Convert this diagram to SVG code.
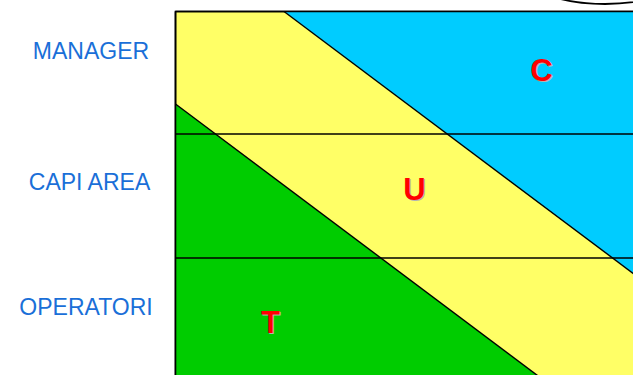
<svg xmlns="http://www.w3.org/2000/svg" width="633" height="375" viewBox="0 0 633 375">
<style>
.lbl{font-family:"Liberation Sans",Arial,sans-serif;font-size:23px;fill:#1a6fd8;text-anchor:middle}
.big{font-family:"Liberation Sans",Arial,sans-serif;font-size:31px;font-weight:bold;text-anchor:middle}
.sh{fill:#b4b4b4}
.rd{fill:#ff0000}
.ln{stroke:#000;stroke-width:1.4;fill:none}
</style>
<rect width="633" height="375" fill="#fff"/>
<ellipse cx="605" cy="-26" rx="80" ry="30" fill="#fff" stroke="#000" stroke-width="1.8"/>
<g id="chart">
<rect x="175.5" y="11.5" width="470" height="375" fill="#ffff66" stroke="#000" stroke-width="1.6"/>
<polygon points="284,11.5 645,11.5 645,282.3" fill="#00ccff"/>
<polygon points="175.5,104 175.5,386 551.5,386" fill="#00cc00"/>
<line class="ln" x1="284" y1="11.5" x2="645" y2="282.3"/>
<line class="ln" x1="175.5" y1="104" x2="551.5" y2="386"/>
<line class="ln" x1="175.5" y1="134" x2="645" y2="134"/>
<line class="ln" x1="175.5" y1="258" x2="645" y2="258"/>
<line x1="175.5" y1="11.5" x2="645" y2="11.5" stroke="#000" stroke-width="1.6"/>
<line x1="175.5" y1="11.5" x2="175.5" y2="386" stroke="#000" stroke-width="1.6"/>
</g>
<g id="labels">
<text class="lbl" x="91" y="59.3">MANAGER</text>
<text class="lbl" x="89.5" y="190">CAPI AREA</text>
<text class="lbl" x="86" y="314.5">OPERATORI</text>
</g>
<g id="letters">
<text class="big sh" x="542.5" y="81.5">C</text>
<text class="big rd" x="541.5" y="80.5">C</text>
<text class="big sh" x="415.5" y="200.5">U</text>
<text class="big rd" x="414.5" y="199.5">U</text>
<text class="big sh" x="271.5" y="334">T</text>
<text class="big rd" x="270.5" y="333">T</text>
</g>
</svg>
